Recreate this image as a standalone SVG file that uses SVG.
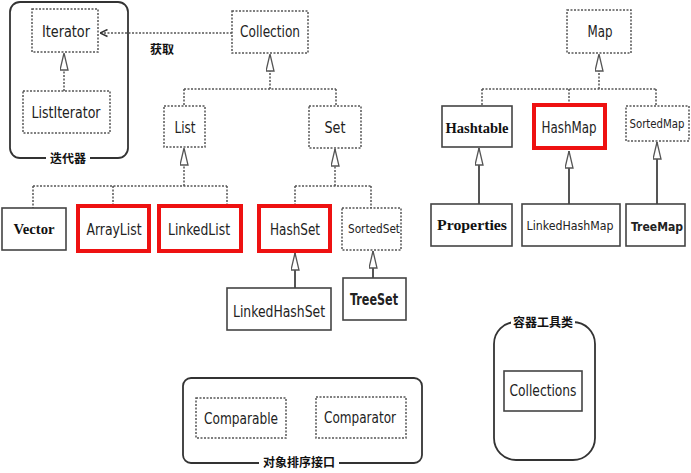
<svg xmlns="http://www.w3.org/2000/svg" width="691" height="473" viewBox="0 0 691 473">
<style>
.dbox{fill:#fff;stroke:#555;stroke-width:1.5;stroke-dasharray:2 1.5}
.sbox{fill:#fff;stroke:#444;stroke-width:1.6}
.rbox{fill:#fff;stroke:#ee1111;stroke-width:4}
.grp{fill:none;stroke:#333;stroke-width:1.8}
.t{font-family:"DejaVu Sans Condensed","DejaVu Sans",sans-serif;font-size:16px;fill:#222;text-anchor:middle}
.ts{font-size:12px}
.tm{font-size:13px}
.tb{font-weight:bold}
.m{font-family:"Liberation Serif",serif;font-weight:bold;font-size:15px;fill:#111;text-anchor:middle}
.cn{font-family:"Noto Sans CJK SC",sans-serif;font-weight:bold;font-size:12px;fill:#111;text-anchor:middle}
.dl{fill:none;stroke:#555;stroke-width:1.5;stroke-dasharray:2 1.5}
.sl{fill:none;stroke:#555;stroke-width:2}
.inh{marker-end:url(#tri)}
</style>
<defs>
<marker id="tri" viewBox="0 0 18 9" refX="17.5" refY="4.5" markerWidth="18" markerHeight="9" markerUnits="userSpaceOnUse" orient="auto">
<path d="M0.5,0.5 L17.5,4.5 L0.5,8.5 Z" fill="#fff" stroke="#555" stroke-width="1.3"/>
</marker>
<marker id="open" viewBox="0 0 9 9" refX="8.5" refY="4.5" markerWidth="9" markerHeight="9" markerUnits="userSpaceOnUse" orient="auto">
<path d="M1,1 L8.5,4.5 L1,8" fill="none" stroke="#333" stroke-width="1.5"/>
</marker>
</defs>
<rect width="691" height="473" fill="#fff"/>

<g id="group-iterator">
<rect class="grp" x="10" y="2" width="118" height="156" rx="10"/>
<rect x="46" y="150" width="44" height="16" fill="#fff"/>
<text class="cn" x="68" y="163">迭代器</text>
</g>
<g id="group-sort">
<rect class="grp" x="183" y="378" width="239" height="85" rx="8"/>
<rect x="259" y="455" width="80" height="16" fill="#fff"/>
<text class="cn" x="299" y="467">对象排序接口</text>
</g>
<g id="group-tools">
<rect class="grp" x="494" y="322" width="101" height="138" rx="22"/>
<rect x="511" y="314" width="64" height="16" fill="#fff"/>
<text class="cn" x="543" y="327">容器工具类</text>
</g>

<g id="connectors">
<path class="dl" d="M232,33 H100" marker-end="url(#open)"/>
<text class="cn" x="162" y="54">获取</text>
<path class="dl inh" d="M64,91 V53"/>
<path class="dl inh" d="M270,89 V54"/>
<path class="dl" d="M184,89 H336 M184,89 V106 M336,89 V106"/>
<path class="dl inh" d="M184,186 V148"/>
<path class="dl" d="M33,186 H227 M33,186 V208 M113,186 V205 M227,186 V205"/>
<path class="dl inh" d="M335,186 V149"/>
<path class="dl" d="M295,186 H371 M295,186 V205 M371,186 V208"/>
<path class="dl inh" d="M599,89 V54"/>
<path class="dl" d="M482,89 H656 M482,89 V106 M569,89 V104 M656,89 V106"/>
<path class="sl inh" d="M295,288 V253"/>
<path class="sl inh" d="M373,278 V251"/>
<path class="sl inh" d="M479,204 V148"/>
<path class="sl inh" d="M569,204 V151"/>
<path class="sl inh" d="M657,204 V142"/>
</g>

<g id="Iterator"><rect class="dbox" x="32" y="9" width="66" height="43"/><text class="t" x="66" y="37" textLength="48" lengthAdjust="spacingAndGlyphs">Iterator</text></g>
<g id="ListIterator"><rect class="dbox" x="23" y="91" width="87" height="42"/><text class="t" x="66" y="118" textLength="69" lengthAdjust="spacingAndGlyphs">ListIterator</text></g>
<g id="Collection"><rect class="dbox" x="232" y="11" width="76" height="42"/><text class="t" x="270" y="37" textLength="60" lengthAdjust="spacingAndGlyphs">Collection</text></g>
<g id="List"><rect class="dbox" x="164" y="106" width="41" height="41"/><text class="t" x="185" y="133" textLength="21" lengthAdjust="spacingAndGlyphs">List</text></g>
<g id="Set"><rect class="dbox" x="309" y="106" width="52" height="42"/><text class="t" x="335" y="133" textLength="21" lengthAdjust="spacingAndGlyphs">Set</text></g>
<g id="Vector"><rect class="sbox" x="2" y="208" width="64" height="42"/><text class="m" x="34" y="234" textLength="41" lengthAdjust="spacingAndGlyphs">Vector</text></g>
<g id="ArrayList"><rect class="rbox" x="78" y="206" width="71" height="45"/><text class="t" x="114" y="235" textLength="55" lengthAdjust="spacingAndGlyphs">ArrayList</text></g>
<g id="LinkedList"><rect class="rbox" x="159" y="206" width="82" height="45"/><text class="t" x="199" y="235" textLength="62" lengthAdjust="spacingAndGlyphs">LinkedList</text></g>
<g id="HashSet"><rect class="rbox" x="259" y="206" width="71" height="45"/><text class="t" x="295" y="235" textLength="50" lengthAdjust="spacingAndGlyphs">HashSet</text></g>
<g id="SortedSet"><rect class="dbox" x="342" y="208" width="59" height="42"/><text class="t tm" x="374" y="233" textLength="52" lengthAdjust="spacingAndGlyphs">SortedSet</text></g>
<g id="LinkedHashSet"><rect class="sbox" x="227" y="288" width="104" height="42"/><text class="t" x="279" y="317" textLength="92" lengthAdjust="spacingAndGlyphs">LinkedHashSet</text></g>
<g id="TreeSet"><rect class="sbox" x="343" y="278" width="63" height="42"/><text class="t tb" x="374" y="305" textLength="48" lengthAdjust="spacingAndGlyphs">TreeSet</text></g>
<g id="Map"><rect class="dbox" x="567" y="10" width="64" height="43"/><text class="t" x="600" y="37" textLength="25" lengthAdjust="spacingAndGlyphs">Map</text></g>
<g id="Hashtable"><rect class="sbox" x="442" y="106" width="70" height="41"/><text class="m" x="477" y="133" textLength="63" lengthAdjust="spacingAndGlyphs">Hashtable</text></g>
<g id="HashMap"><rect class="rbox" x="534" y="105" width="71" height="43"/><text class="t" x="569" y="133" textLength="55" lengthAdjust="spacingAndGlyphs">HashMap</text></g>
<g id="SortedMap"><rect class="dbox" x="626" y="106" width="63" height="35"/><text class="t ts" x="657" y="128" textLength="55" lengthAdjust="spacingAndGlyphs">SortedMap</text></g>
<g id="Properties"><rect class="sbox" x="431" y="204" width="81" height="42"/><text class="m" x="472" y="230" textLength="70" lengthAdjust="spacingAndGlyphs">Properties</text></g>
<g id="LinkedHashMap"><rect class="sbox" x="522" y="204" width="98" height="42"/><text class="t tm" x="570" y="230" textLength="87" lengthAdjust="spacingAndGlyphs">LinkedHashMap</text></g>
<g id="TreeMap"><rect class="sbox" x="626" y="204" width="59" height="42"/><text class="t tm tb" x="657" y="231" textLength="52" lengthAdjust="spacingAndGlyphs">TreeMap</text></g>
<g id="Comparable"><rect class="dbox" x="196" y="398" width="90" height="40"/><text class="t" x="241" y="424" textLength="74" lengthAdjust="spacingAndGlyphs">Comparable</text></g>
<g id="Comparator"><rect class="dbox" x="316" y="397" width="90" height="41"/><text class="t" x="360" y="423" textLength="72" lengthAdjust="spacingAndGlyphs">Comparator</text></g>
<g id="Collections"><rect class="sbox" x="504" y="371" width="78" height="40"/><text class="t" x="543" y="396" textLength="67" lengthAdjust="spacingAndGlyphs">Collections</text></g>
</svg>
